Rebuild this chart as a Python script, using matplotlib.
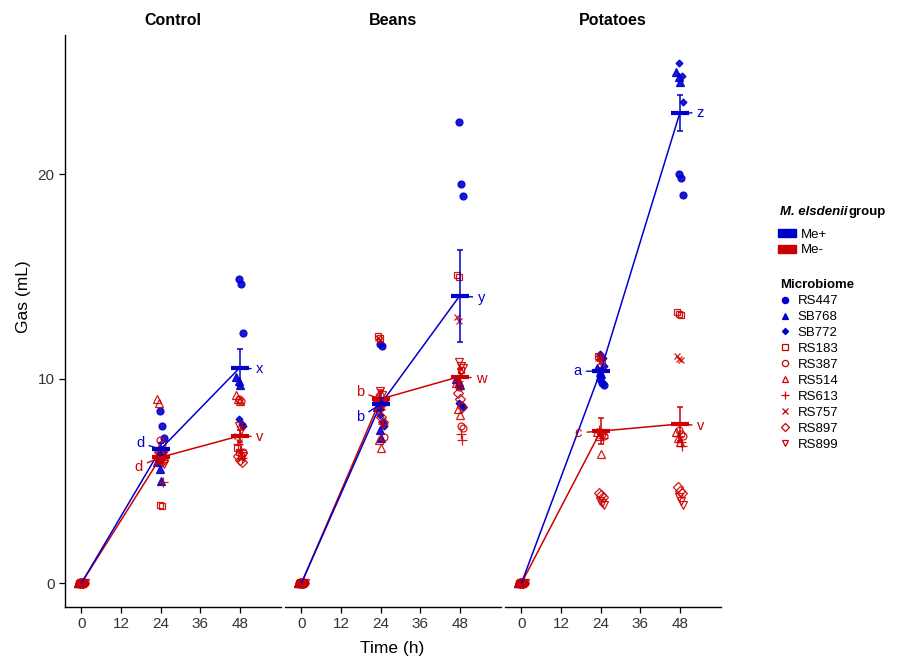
import numpy as np
import matplotlib.pyplot as plt
from matplotlib.lines import Line2D
from matplotlib.patches import Patch

plt.rcParams['font.family'] = ['Liberation Sans', 'DejaVu Sans']

# Diets (facets), sampling times and groups.
diets = ['Control', 'Beans', 'Potatoes']
times = [0, 24, 48]
microbiomes = ['RS447', 'SB768', 'SB772', 'RS183', 'RS387',
               'RS514', 'RS613', 'RS757', 'RS897', 'RS899']
microbiome_group = ['Me+'] * 3 + ['Me-'] * 7

# Gas (mL) per microbiome, three replicates each, same order as microbiomes.
baseline_0h = [[0.0, 0.0, 0.0]] * 10
control_24h = [[8.4, 7.7, 7.1], [5.9, 5.6, 5.0], [6.6, 6.4, 6.2],
               [6.0, 3.8, 3.75], [7.0, 6.8, 6.5], [9.0, 8.8, 6.4],
               [6.2, 5.9, 4.95], [6.3, 6.1, 5.9], [6.4, 6.2, 6.0],
               [6.3, 6.0, 5.8]]
control_48h = [[14.85, 14.6, 12.25], [10.1, 9.9, 9.7], [8.0, 7.8, 7.7],
               [6.6, 6.4, 6.2], [9.0, 8.9, 6.4], [9.2, 9.0, 8.9],
               [6.8, 6.5, 6.1], [7.2, 6.9, 6.1], [6.2, 6.0, 5.9],
               [7.7, 7.5, 6.2]]
beans_24h = [[11.7, 11.6, 8.9], [8.6, 7.5, 7.1], [8.2, 7.9, 7.7],
             [12.1, 12.0, 8.9], [9.2, 8.8, 7.15], [9.1, 7.0, 6.6],
             [9.0, 8.7, 7.8], [12.0, 11.9, 8.6], [8.5, 8.1, 7.9],
             [9.4, 9.2, 8.8]]
beans_48h = [[22.55, 19.5, 18.95], [10.0, 9.85, 9.7], [8.8, 8.7, 8.6],
             [15.05, 14.95, 10.4], [9.6, 7.7, 7.6], [9.8, 8.5, 8.2],
             [9.9, 7.3, 7.0], [13.0, 12.8, 10.2], [9.3, 9.0, 8.6],
             [10.8, 10.6, 10.5]]
potatoes_24h = [[10.0, 9.8, 9.7], [10.5, 10.3, 10.2], [11.2, 11.0, 10.6],
                [11.1, 11.0, 10.9], [7.4, 7.3, 7.2], [7.4, 7.2, 6.3],
                [7.5, 7.3, 7.1], [11.0, 10.8, 10.6], [4.4, 4.3, 4.2],
                [4.0, 3.9, 3.8]]
potatoes_48h = [[20.0, 19.8, 19.0], [25.0, 24.75, 24.5], [25.45, 24.8, 23.5],
                [13.25, 13.15, 13.1], [7.5, 7.3, 7.2], [7.4, 7.1, 6.9],
                [7.2, 6.9, 6.7], [11.1, 10.95, 10.9], [4.7, 4.5, 4.4],
                [4.2, 4.0, 3.8]]

# Group means and standard errors (rows: diets, columns: times).
me_plus_mean = [[0, 6.55, 10.53], [0, 8.75, 14.05], [0, 10.37, 22.98]]
me_plus_se = [[0, 0.3, 0.9], [0, 0.3, 2.25], [0, 0.15, 0.88]]
me_minus_mean = [[0, 6.15, 7.2], [0, 9.0, 10.1], [0, 7.43, 7.78]]
me_minus_se = [[0, 0.3, 0.3], [0, 0.45, 0.35], [0, 0.63, 0.84]]

# Significance letters at 24 h and 48 h.
me_plus_letters = [['d', 'x'], ['b', 'y'], ['a', 'z']]
me_minus_letters = [['d', 'v'], ['b', 'w'], ['c', 'v']]

panel_data = [
    [baseline_0h, control_24h, control_48h],
    [baseline_0h, beans_24h, beans_48h],
    [baseline_0h, potatoes_24h, potatoes_48h],
]

colors = {'Me+': '#0000CC', 'Me-': '#CC0000'}
markers = ['o', '^', 'D', 's', 'o', '^', '+', 'x', 'D', 'v']
marker_sizes = [5, 5.5, 3.5, 5, 5, 5.5, 6.5, 5, 5, 5.5]

# Letter positions (time, gas) next to the group means.
plus_label_pos = [[(17.8, 6.85), (54.0, 10.45)],
                  [(17.8, 8.1), (54.5, 13.95)],
                  [(17.0, 10.35), (54.3, 23.0)]]
minus_label_pos = [[(17.3, 5.7), (54.0, 7.15)],
                   [(17.8, 9.35), (54.5, 10.0)],
                   [(17.3, 7.35), (54.3, 7.7)]]

# Small horizontal offsets so overlapping replicates stay visible.
rep_jitter = [-0.6, 0.1, 0.6]
mb_jitter = [0.3, -0.4, 0.5, -0.2, 0.4, -0.5, 0.2, -0.3, 0.0, 0.35]

fig = plt.figure(figsize=(8.98, 6.6), dpi=100)

ax_left, ax_bottom, ax_h = 65 / 898, 53 / 660, 572 / 660
ax_w = 216 / 898
gap = 4 / 898

for i, diet in enumerate(diets):
    ax = fig.add_axes([ax_left + i * (ax_w + gap), ax_bottom, ax_w, ax_h])

    # Individual replicates.
    for m, name in enumerate(microbiomes):
        col = colors[microbiome_group[m]]
        filled = microbiome_group[m] == 'Me+'
        for t_idx, t in enumerate(times):
            vals = panel_data[i][t_idx][m]
            xs = [t + rep_jitter[r] + mb_jitter[m] for r in range(len(vals))]
            ax.plot(xs, vals, linestyle='none', marker=markers[m],
                    ms=marker_sizes[m],
                    mfc=col if filled else 'none', mec=col,
                    mew=0.9, alpha=0.9, zorder=3)

    # Group means with standard errors.
    for grp, means, ses, letters, pos in [
            ('Me-', me_minus_mean, me_minus_se, me_minus_letters, minus_label_pos),
            ('Me+', me_plus_mean, me_plus_se, me_plus_letters, plus_label_pos)]:
        col = colors[grp]
        ax.plot(times, means[i], color=col, lw=1.1, zorder=4)
        ax.errorbar(times[1:], means[i][1:], yerr=ses[i][1:], fmt='none',
                    ecolor=col, elinewidth=1.1, capsize=2.5, capthick=1.1,
                    zorder=5)
        ax.plot(times[1:], means[i][1:], linestyle='none', marker='_',
                ms=13, mew=3, color=col, zorder=5)
        for k in range(2):
            ax.annotate(letters[i][k], xy=(times[k + 1], means[i][k + 1]),
                        xytext=pos[i][k], color=col, fontsize=10.5,
                        ha='center', va='center', zorder=6,
                        arrowprops=dict(arrowstyle='-', color=col, lw=1,
                                        shrinkA=1.5, shrinkB=0))

    ax.set_xlim(-5, 60.5)
    ax.set_ylim(-1.17, 26.8)
    ax.set_xticks([0, 12, 24, 36, 48])
    ax.set_title(diet, fontsize=11.5, fontweight='bold', pad=7)
    ax.spines['top'].set_visible(False)
    ax.spines['right'].set_visible(False)
    ax.spines['bottom'].set_linewidth(1.0)
    ax.spines['left'].set_linewidth(1.0)
    ax.tick_params(axis='both', direction='out', length=4, width=0.9,
                   labelsize=11, labelcolor='#333333')
    if i == 0:
        ax.set_yticks([0, 10, 20])
    else:
        ax.spines['left'].set_visible(False)
        ax.set_yticks([])

fig.text(24 / 898, 1 - 297 / 660, 'Gas (mL)', rotation=90,
         ha='center', va='center', fontsize=12.5)
fig.text(392 / 898, 1 - 649 / 660, 'Time (h)', ha='center', va='center',
         fontsize=12.5)

# Legend: M. elsdenii group.
t1 = fig.text(780 / 898, 1 - 212 / 660, 'M. elsdenii', fontsize=9.5,
              fontweight='bold', fontstyle='italic', va='center', ha='left')
fig.add_artist(plt.Annotation('group', xy=(1, 0.5), xycoords=t1,
                              xytext=(1, 0), textcoords='offset points',
                              fontsize=9.5, fontweight='bold',
                              va='center', ha='left'))
group_handles = [Patch(color=colors['Me+']), Patch(color=colors['Me-'])]
fig.legend(group_handles, ['Me+', 'Me-'], loc='upper left',
           bbox_to_anchor=(778 / 898, 1 - 229 / 660), frameon=False,
           fontsize=9.5, handlelength=1.4, handleheight=0.55,
           handletextpad=0.3, labelspacing=0.25, borderpad=0,
           borderaxespad=0)

# Legend: microbiome.
fig.text(780 / 898, 1 - 285 / 660, 'Microbiome', fontsize=9.5,
         fontweight='bold', va='center', ha='left')
mb_handles = []
for m, name in enumerate(microbiomes):
    col = colors[microbiome_group[m]]
    filled = microbiome_group[m] == 'Me+'
    mb_handles.append(Line2D([], [], linestyle='none', marker=markers[m],
                             ms=marker_sizes[m] * 0.9,
                             mfc=col if filled else 'none', mec=col, mew=0.9))
fig.legend(mb_handles, microbiomes, loc='upper left',
           bbox_to_anchor=(778 / 898, 1 - 295 / 660), frameon=False,
           fontsize=9.5, handlelength=1.0, handletextpad=0.5,
           labelspacing=0.28, borderpad=0, borderaxespad=0)

fig.savefig('out.png', dpi=100)
